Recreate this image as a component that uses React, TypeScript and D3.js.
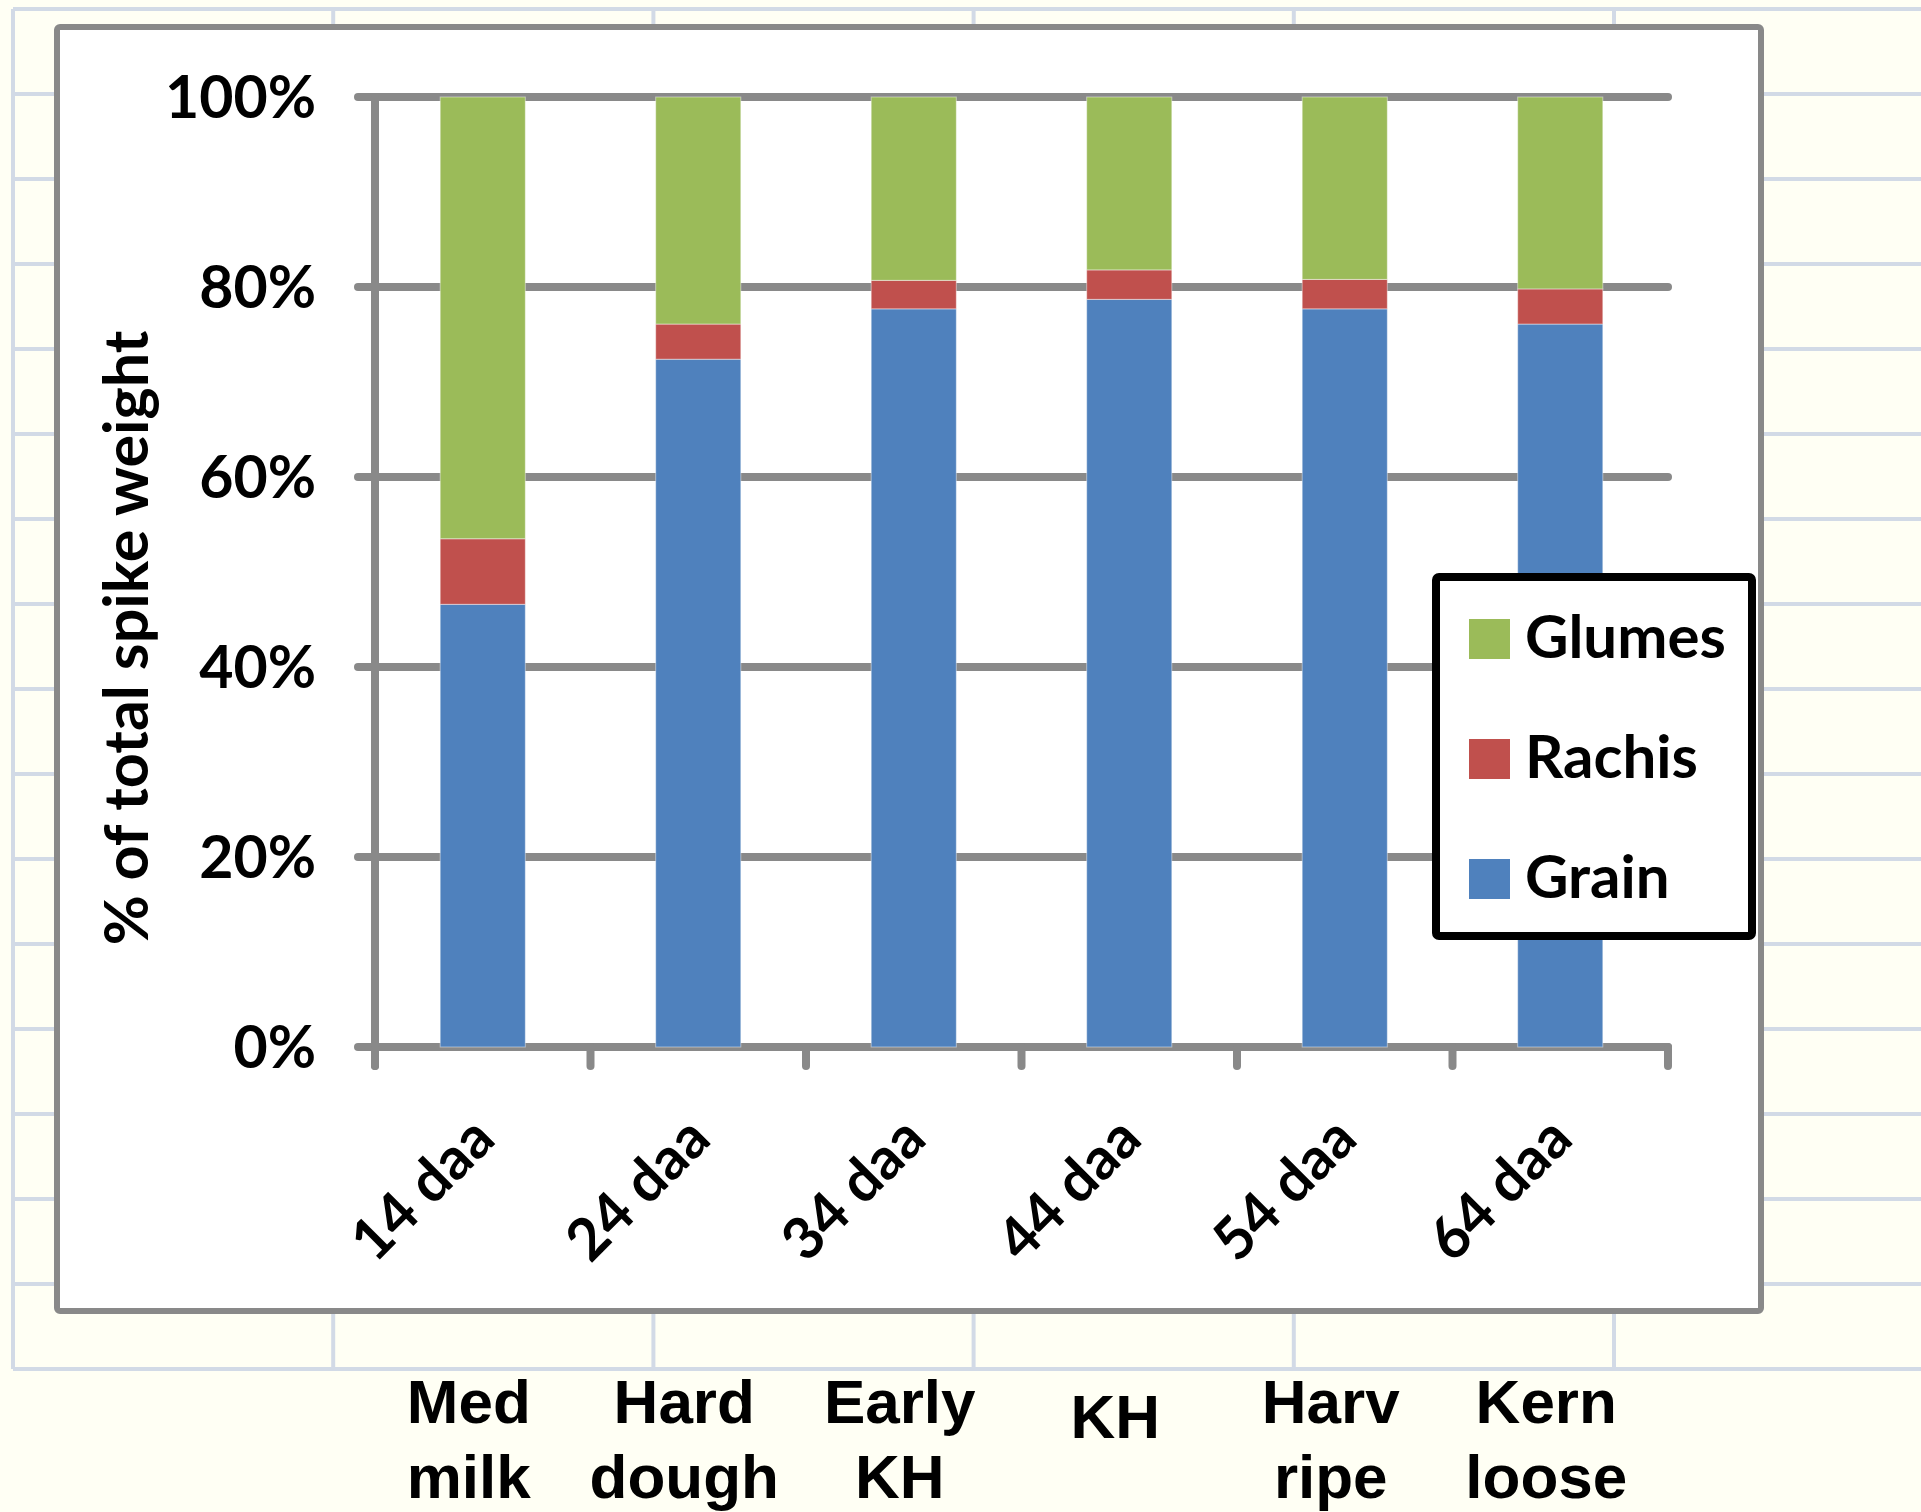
import React from "react";
import * as d3 from "d3";

const categories = ["14 daa", "24 daa", "34 daa", "44 daa", "54 daa", "64 daa"];
const stageLabels = [["Med", "milk"], ["Hard", "dough"], ["Early", "KH"], ["KH"], ["Harv", "ripe"], ["Kern", "loose"]];
const grain = [46.6, 72.4, 77.7, 78.7, 77.7, 76.1];
const rachis = [6.9, 3.7, 3.0, 3.1, 3.1, 3.7];
const glumes = [46.5, 23.9, 19.3, 18.2, 19.2, 20.2];
const seriesKeys = ["Grain", "Rachis", "Glumes"];
const legendOrder = ["Glumes", "Rachis", "Grain"];
const yTicks = [0, 0.2, 0.4, 0.6, 0.8, 1.0];
const yTitle = "% of total spike weight";

const colors: Record<string, string> = {
  Grain: "#4F81BD",
  Rachis: "#C0504D",
  Glumes: "#9BBB59",
};

const W = 1921;
const H = 1512;
const CAL = "Lato, 'Open Sans', sans-serif";
const ARIAL = "'Liberation Sans', Arial, sans-serif";

export default function App() {
  const rows = categories.map((c, i) => ({
    cat: c,
    Grain: grain[i] / 100,
    Rachis: rachis[i] / 100,
    Glumes: glumes[i] / 100,
  }));
  const stack = d3.stack<any>().keys(seriesKeys);
  const stacked = stack(rows);

  const x = d3
    .scaleBand<string>()
    .domain(categories)
    .range([375, 1668])
    .paddingInner(0.605)
    .paddingOuter(0.3025);
  const y = d3.scaleLinear().domain([0, 1]).range([1047, 97]);
  const fmt = d3.format(".0%");
  const [x0, x1] = x.range();
  const step = x.step();
  const bw = x.bandwidth();
  const grid = "#898989";

  // spreadsheet background lines
  const rowLines = d3.range(0, 17).map((k) => 9 + k * 85);
  const colLines = d3.range(0, 6).map((k) => 13 + k * 320.2);

  return (
    <svg
      width={W}
      height={H}
      style={{ position: "absolute", left: 0, top: 0, display: "block" }}
      xmlns="http://www.w3.org/2000/svg"
    >
      <rect x={0} y={0} width={W} height={H} fill="#FFFFF4" />
      {rowLines.map((ry, i) => (
        <line key={"r" + i} x1={13} x2={W} y1={ry} y2={ry} stroke="#D2DAE6" strokeWidth={4} />
      ))}
      {colLines.map((cx, i) => (
        <line key={"c" + i} x1={cx} x2={cx} y1={9} y2={1369} stroke="#D2DAE6" strokeWidth={4} />
      ))}

      {/* chart area */}
      <rect x={57} y={27} width={1704} height={1284} rx={3} fill="#FFFFFF" stroke="#898989" strokeWidth={6} />

      {/* gridlines */}
      {yTicks.map((t) => (
        <line
          key={"g" + t}
          x1={x0 - 17}
          x2={x1}
          y1={y(t)}
          y2={y(t)}
          stroke={grid}
          strokeWidth={8}
          strokeLinecap="round"
        />
      ))}
      {/* y axis */}
      <line x1={x0} x2={x0} y1={y(1)} y2={y(0) + 19} stroke={grid} strokeWidth={8} strokeLinecap="round" />
      {/* x ticks */}
      {d3.range(0, categories.length + 1).map((k) => (
        <line
          key={"t" + k}
          x1={x0 + k * step}
          x2={x0 + k * step}
          y1={y(0)}
          y2={y(0) + 19}
          stroke={grid}
          strokeWidth={8}
          strokeLinecap="round"
        />
      ))}

      {/* bars */}
      {stacked.map((s) => (
        <g key={s.key} fill={colors[s.key]}>
          {s.map((d, i) => (
            <rect
              key={i}
              x={x(categories[i])}
              width={bw}
              y={y(d[1])}
              height={y(d[0]) - y(d[1])}
              stroke="rgba(255,255,255,0.45)"
              strokeWidth={1}
            />
          ))}
        </g>
      ))}

      {/* y tick labels */}
      {yTicks.map((t) => (
        <text
          key={"yl" + t}
          x={316}
          y={y(t)}
          dy="0.36em"
          textAnchor="end"
          fontFamily={CAL}
          fontWeight={700}
          fontSize={59}
          fill="#000"
        >
          {fmt(t)}
        </text>
      ))}

      {/* y title */}
      <text
        transform={`translate(126,638) rotate(-90)`}
        textAnchor="middle"
        dy="0.36em"
        fontFamily={CAL}
        fontWeight={700}
        fontSize={61}
        fill="#000"
      >
        {yTitle}
      </text>

      {/* x tick labels rotated */}
      {categories.map((c) => {
        const cx = (x(c) as number) + bw / 2;
        const cy = 1127;
        return (
          <text
            key={"xl" + c}
            transform={`translate(${cx},${cy}) rotate(-45)`}
            textAnchor="end"
            dy="0.36em"
            fontFamily={CAL}
            fontWeight={700}
            fontSize={58}
            fill="#000"
          >
            {c}
          </text>
        );
      })}

      {/* stage labels below */}
      {stageLabels.map((lines, i) => {
        const cx = (x(categories[i]) as number) + bw / 2 - 14;
        const ys = lines.length === 2 ? [1423, 1498] : [1438];
        return (
          <text
            key={"st" + i}
            textAnchor="middle"
            fontFamily={ARIAL}
            fontWeight={700}
            fontSize={62}
            fill="#000"
          >
            {lines.map((ln, j) => (
              <tspan key={j} x={cx} y={ys[j]}>
                {ln}
              </tspan>
            ))}
          </text>
        );
      })}

      {/* legend */}
      <g>
        <rect x={1436} y={577} width={316} height={359} rx={3} fill="#FFFFFF" stroke="#000" strokeWidth={8} />
        {legendOrder.map((k, i) => (
          <g key={"lg" + k}>
            <rect x={1469} y={619 + i * 120} width={41} height={40} fill={colors[k]} />
            <text
              x={1525}
              y={658 + i * 120}
              fontFamily={CAL}
              fontWeight={700}
              fontSize={60}
              fill="#000"
            >
              {k}
            </text>
          </g>
        ))}
      </g>
    </svg>
  );
}
